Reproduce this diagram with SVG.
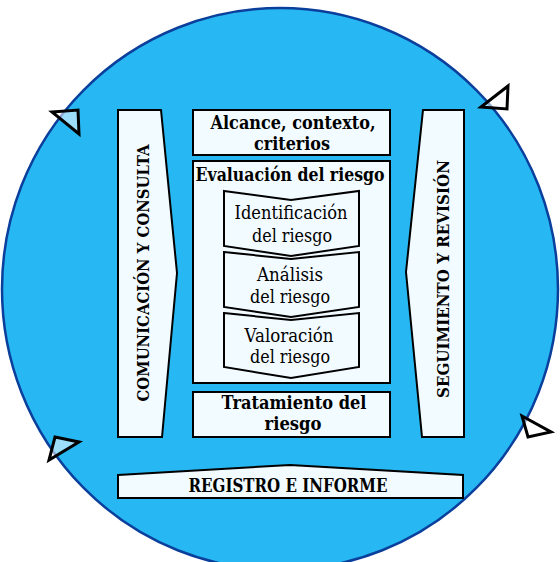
<svg xmlns="http://www.w3.org/2000/svg" width="560" height="562" viewBox="0 0 560 562">
<style>
.panel{fill:#f2fbff;stroke:#000;stroke-width:2;stroke-linejoin:miter}
.b{font-family:"DejaVu Serif","Liberation Serif",serif;font-weight:bold;fill:#000;text-anchor:middle}
.r{font-family:"DejaVu Serif","Liberation Serif",serif;font-weight:normal;fill:#000;text-anchor:middle}
.tri{fill:#ffffff;fill-opacity:0.55;stroke:#000;stroke-width:3;stroke-linejoin:miter}
</style>
<rect width="560" height="562" fill="#ffffff"/>
<g id="cycle">
<ellipse cx="280" cy="289" rx="278" ry="281" fill="#27b8f3" stroke="#0b3f9c" stroke-width="2.5"/>
</g>
<g id="connectors">
<polygon class="tri" points="52,112 78,110 79,134"/>
<polygon class="tri" points="481,107 508,86 507,109"/>
<polygon class="tri" points="55,437 79,442 49,460"/>
<polygon class="tri" points="522,416 551,432 528,437"/>
</g>
<g id="comunicacion">
<polygon class="panel" points="118,110 161,110 177,273 162,437 118,437"/>
<text class="b" font-size="17.5" transform="translate(148.5,273) rotate(-90)" textLength="257" lengthAdjust="spacingAndGlyphs">COMUNICACIÓN Y CONSULTA</text>
</g>
<g id="seguimiento">
<polygon class="panel" points="423,110 464,110 464,437 422,437 406,272"/>
<text class="b" font-size="17.5" transform="translate(448.5,279) rotate(-90)" textLength="238" lengthAdjust="spacingAndGlyphs">SEGUIMIENTO Y REVISIÓN</text>
</g>
<g id="alcance">
<rect class="panel" x="193" y="110" width="197" height="45"/>
<text class="b" font-size="18" x="293" y="129" textLength="165" lengthAdjust="spacingAndGlyphs">Alcance, contexto,</text>
<text class="b" font-size="18" x="292" y="150" textLength="76" lengthAdjust="spacingAndGlyphs">criterios</text>
</g>
<g id="evaluacion">
<rect class="panel" x="193" y="161" width="197" height="222"/>
<text class="b" font-size="18" x="290" y="181" textLength="189" lengthAdjust="spacingAndGlyphs">Evaluación del riesgo</text>
</g>
<g id="identificacion">
<polygon class="panel" points="224,191 291,200 359,191 359,246 291,256 224,246"/>
<text class="r" font-size="18" x="291" y="219" textLength="113" lengthAdjust="spacingAndGlyphs">Identificación</text>
<text class="r" font-size="18" x="292" y="242" textLength="80" lengthAdjust="spacingAndGlyphs">del riesgo</text>
</g>
<g id="analisis">
<polygon class="panel" points="224,252 291,259 359,252 359,307 291,317 224,307"/>
<text class="r" font-size="18" x="290" y="281" textLength="66" lengthAdjust="spacingAndGlyphs">Análisis</text>
<text class="r" font-size="18" x="290" y="303" textLength="80" lengthAdjust="spacingAndGlyphs">del riesgo</text>
</g>
<g id="valoracion">
<polygon class="panel" points="224,313 291,320 359,313 359,367 291,378 224,367"/>
<text class="r" font-size="18" x="289" y="342" textLength="89" lengthAdjust="spacingAndGlyphs">Valoración</text>
<text class="r" font-size="18" x="290" y="363" textLength="80" lengthAdjust="spacingAndGlyphs">del riesgo</text>
</g>
<g id="tratamiento">
<rect class="panel" x="193" y="392" width="197" height="45"/>
<text class="b" font-size="18" x="294" y="409" textLength="145" lengthAdjust="spacingAndGlyphs">Tratamiento del</text>
<text class="b" font-size="18" x="293" y="430" textLength="57" lengthAdjust="spacingAndGlyphs">riesgo</text>
</g>
<g id="registro">
<polygon class="panel" points="118,475 290,465 463,475 463,498 118,498"/>
<text class="b" font-size="18" x="288" y="492" textLength="199" lengthAdjust="spacingAndGlyphs">REGISTRO E INFORME</text>
</g>
</svg>
